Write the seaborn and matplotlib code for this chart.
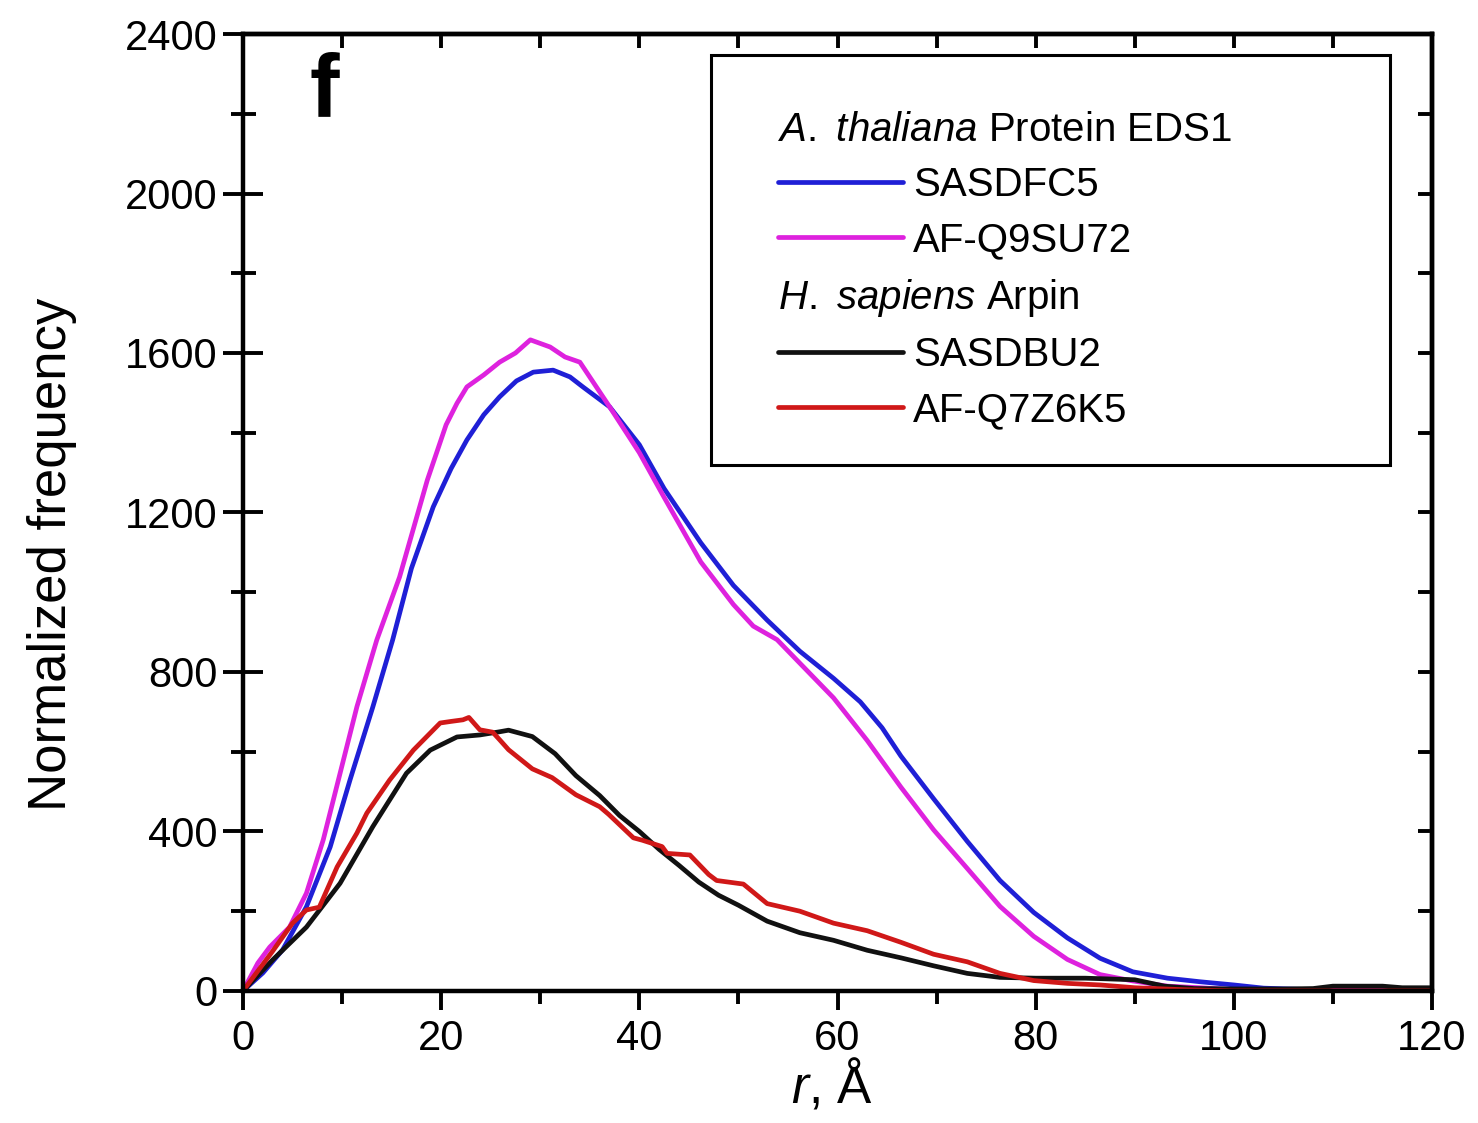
import matplotlib
matplotlib.use("Agg")
import matplotlib.pyplot as plt
import seaborn as sns
from matplotlib.lines import Line2D
from matplotlib.patches import Rectangle
from matplotlib.ticker import MultipleLocator

# pair distance distributions (r in Angstrom)
r_sasdfc5 = [0, 2, 4, 6.4, 8.8, 10.8, 13.1, 15.1, 17, 19.2, 21, 22.6, 24.3, 25.9, 27.6, 29.3,
             31.3, 33, 34.3, 37, 40, 42.5, 46.2, 49.5, 52.9, 56.2, 59.6, 62.3, 64.5, 66.4,
             69.7, 73.1, 76.4, 79.8, 83.2, 86.5, 89.8, 93.3, 96.6, 100, 103, 108, 115, 120]
sasdfc5 = [0, 45, 103, 211, 361, 529, 712, 880, 1060, 1214, 1310, 1382, 1445, 1490, 1530, 1552,
           1557, 1540, 1515, 1465, 1370, 1260, 1124, 1017, 930, 852, 784, 725, 660, 589,
           482, 375, 277, 197, 133, 82, 48, 32, 23, 15, 7, 3, 1, 0]

r_af_q9su72 = [0, 1.5, 2.7, 4.7, 6.4, 8.1, 9.8, 11.5, 13.5, 15.8, 18.6, 20.5, 21.6, 22.6, 24.3,
               25.9, 27.5, 29, 31, 32.5, 34, 37, 40, 42.5, 46.2, 49.5, 51.5, 53.9, 56.2, 59.6,
               63, 66.4, 69.7, 73.1, 76.4, 79.8, 83.2, 86.5, 89.8, 93.3, 96.6, 100, 110, 120]
af_q9su72 = [0, 70, 110, 160, 245, 379, 546, 713, 880, 1038, 1281, 1420, 1474, 1515, 1545,
             1577, 1600, 1633, 1615, 1590, 1577, 1465, 1350, 1238, 1076, 969, 915, 881, 822, 735,
             628, 511, 404, 307, 212, 137, 79, 41, 25, 12, 8, 3, 1, 0]

r_sasdbu2 = [0, 3, 6.4, 9.8, 13.1, 16.5, 18.9, 21.6, 23.9, 25.9, 26.8, 29.2, 31.5, 33.6, 36,
             38, 40, 42, 44, 46, 48, 50, 52.9, 56.2, 59.6, 63, 66.4, 69.7, 73.1, 76.4, 80,
             85, 90, 93, 96, 100, 105, 108, 110, 115, 117, 120]
sasdbu2 = [0, 78, 160, 270, 412, 546, 604, 637, 642, 650, 654, 638, 595, 540, 490,
           440, 400, 355, 315, 273, 240, 215, 175, 146, 127, 102, 83, 63, 44, 34, 32,
           32, 28, 12, 6, 5, 5, 6, 12, 12, 8, 8]

r_af_q7z6k5 = [0, 3, 5, 6.4, 7.7, 9.5, 11.5, 12.5, 14.8, 17.2, 19.9, 21, 22.2, 22.8, 23.9, 25.2,
               25.9, 26.8, 29.2, 31.2, 33.6, 36, 36.9, 39.4, 40.3, 42.3, 42.8, 45.1, 47, 47.8,
               50.5, 52.9, 56.2, 59.6, 63, 66.4, 69.7, 73.1, 76.4, 79.8, 83.2, 86.5, 90, 95,
               100, 110, 120]
af_q7z6k5 = [0, 100, 170, 203, 210, 311, 396, 446, 529, 604, 672, 676, 680, 686, 655, 649,
             630, 605, 557, 535, 492, 462, 443, 384, 378, 362, 345, 341, 292, 277,
             268, 219, 200, 170, 151, 122, 92, 73, 44, 26, 19, 15, 8, 3,
             0, 0, 0]

series_labels = ["SASDFC5", "AF-Q9SU72", "SASDBU2", "AF-Q7Z6K5"]
series_colors = ["#1f1fd6", "#de22de", "#111111", "#d01818"]
group_labels = [r"$\mathit{A.}$ $\mathit{thaliana}$ Protein EDS1",
                r"$\mathit{H.}$ $\mathit{sapiens}$ Arpin"]

sns.set_style("white")
plt.rcParams["font.family"] = ["Liberation Sans", "DejaVu Sans"]
plt.rcParams["mathtext.fontset"] = "custom"
plt.rcParams["mathtext.rm"] = "Liberation Sans"
plt.rcParams["mathtext.it"] = "Liberation Sans:italic"
plt.rcParams["text.color"] = "black"
plt.rcParams["axes.labelcolor"] = "black"
plt.rcParams["xtick.color"] = "black"
plt.rcParams["ytick.color"] = "black"

fig = plt.figure(figsize=(14.78, 11.23), dpi=100)
ax = fig.add_axes([0.1644, 0.1176, 0.8045, 0.8521])

data = [(r_sasdfc5, sasdfc5), (r_af_q9su72, af_q9su72),
        (r_sasdbu2, sasdbu2), (r_af_q7z6k5, af_q7z6k5)]
for (r, y), c in zip(data, series_colors):
    sns.lineplot(x=r, y=y, color=c, lw=3.4, estimator=None, ax=ax, legend=False)

ax.set_xlim(0, 120)
ax.set_ylim(0, 2400)
ax.set_xticks(range(0, 121, 20))
ax.set_yticks(range(0, 2401, 400))
ax.xaxis.set_minor_locator(MultipleLocator(10))
ax.yaxis.set_minor_locator(MultipleLocator(200))
ax.tick_params(axis="x", which="both", bottom=True, top=False)
ax.tick_params(axis="y", which="both", left=True, right=False)
ax.tick_params(axis="x", which="major", direction="out", length=14, width=2.8,
               labelsize=30, pad=6)
ax.tick_params(axis="x", which="minor", direction="out", length=9, width=2.8)
ax.tick_params(axis="y", which="major", direction="inout", length=29, width=2.8,
               labelsize=30, pad=4)
ax.tick_params(axis="y", which="minor", direction="inout", length=18, width=2.8)
for s in ax.spines.values():
    s.set_linewidth(3.2)
    s.set_color("black")

# Origin-style inward ticks on the top and right frame
top = ax.secondary_xaxis("top")
top.set_xticks(range(0, 121, 20))
top.xaxis.set_minor_locator(MultipleLocator(10))
top.tick_params(which="both", top=True, direction="in", length=10, width=2.8,
                labeltop=False)
top.spines["top"].set_linewidth(3.2)
right = ax.secondary_yaxis("right")
right.set_yticks(range(0, 2401, 400))
right.yaxis.set_minor_locator(MultipleLocator(200))
right.tick_params(which="both", right=True, direction="in", length=10, width=2.8,
                  labelright=False)
right.spines["right"].set_linewidth(3.2)

ax.set_xlabel("$\\mathit{r}$, Å", fontsize=37)
ax.set_ylabel("Normalized frequency", fontsize=38)
ax.xaxis.set_label_coords(0.495, -0.070)
ax.yaxis.set_label_coords(-0.140, 0.456)

ax.text(0.056, 0.982, "f", transform=ax.transAxes, fontsize=64, fontweight="bold",
        va="top", ha="left")

# legend: frame drawn separately, group headers without a line sample
ax.add_patch(Rectangle((0.394, 0.550), 0.571, 0.428, transform=ax.transAxes,
                       fill=True, fc="white", ec="black", lw=2.2, zorder=4))
handles = [Line2D([], [], color="none")]
handles += [Line2D([], [], color=c, lw=3.4) for c in series_colors[:2]]
handles += [Line2D([], [], color="none")]
handles += [Line2D([], [], color=c, lw=3.4) for c in series_colors[2:]]
labels = [group_labels[0]] + series_labels[:2] + [group_labels[1]] + series_labels[2:]
leg = ax.legend(handles, labels, loc="upper left", bbox_to_anchor=(0.45, 0.92),
                frameon=False, fontsize=29, handlelength=3.1, handletextpad=0.25,
                labelspacing=0.43, borderpad=0, borderaxespad=0)
leg.set_zorder(5)
rows = leg._legend_handle_box.get_children()[0].get_children()
for i in (0, 3):
    rows[i].get_children()[0].width = 0
    rows[i].sep = 0

fig.savefig("out.png", dpi=100, facecolor="white")
